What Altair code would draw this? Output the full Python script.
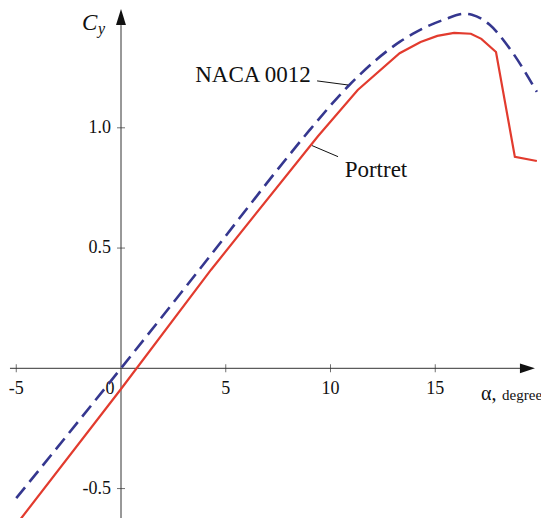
import altair as alt
import pandas as pd

# ---- data ----
naca_alpha = [-5, 0, 3.8, 8.2, 9.0, 10.9, 13.3, 14.1, 15.4, 16.4, 16.75, 17.6, 18.6, 19.85]
naca_cy    = [-0.54, 0.0, 0.417, 0.905, 0.99, 1.178, 1.357, 1.399, 1.449, 1.474, 1.47, 1.428, 1.324, 1.149]

portret_alpha = [-5, 0, 4.3, 9.4, 11.3, 13.3, 14.3, 15.1, 15.9, 16.7, 17.2, 17.9, 18.8, 19.85]
portret_cy    = [-0.65, -0.086, 0.41, 0.965, 1.157, 1.31, 1.357, 1.382, 1.395, 1.391, 1.37, 1.315, 0.879, 0.862]

x_ticks = [-5, 5, 10, 15]
x_tick_labels = ["-5", "5", "10", "15"]
y_ticks = [-0.5, 0.5, 1.0]
y_tick_labels = ["-0.5", "0.5", "1.0"]

# annotation anchors (data coordinates)
naca_label = {"a": 6.3, "c": 1.19, "t": "NACA 0012"}
naca_leader = {"a": 9.36, "c": 1.195, "a2": 10.84, "c2": 1.178}
portret_label = {"a": 12.17, "c": 0.795, "t": "Portret"}
portret_leader = {"a": 9.12, "c": 0.926, "a2": 10.36, "c2": 0.880}

X_DOMAIN = [-5.394, 20.048]
Y_DOMAIN = [-0.6224, 1.4981]
W, H = 533, 510
FONT = "Liberation Serif"
AXC = "#333333"
RED = "#e23b2e"
BLUE = "#35378f"

xs = alt.Scale(domain=X_DOMAIN, nice=False, zero=False)
ys = alt.Scale(domain=Y_DOMAIN, nice=False, zero=False)

naca_df = pd.DataFrame({"a": naca_alpha, "c": naca_cy})
port_df = pd.DataFrame({"a": portret_alpha, "c": portret_cy})

X = lambda f: alt.X(f, type="quantitative", scale=xs, axis=None)
Y = lambda f: alt.Y(f, type="quantitative", scale=ys, axis=None)

# axis lines
x_axis = alt.Chart(pd.DataFrame({"a": [-5.30], "a2": [19.05], "c": [0]})).mark_rule(
    color=AXC, strokeWidth=1).encode(x=X("a"), x2="a2", y=Y("c"))
y_axis = alt.Chart(pd.DataFrame({"a": [0], "c": [-0.7], "c2": [1.427]})).mark_rule(
    color=AXC, strokeWidth=1).encode(x=X("a"), y=Y("c"), y2="c2")

# arrow heads
x_arrow = alt.Chart(pd.DataFrame({"a": [19.40], "c": [0]})).mark_point(
    shape="M1,0L-1,-0.65L-1,0.65Z", size=225, filled=True, color="#111111", opacity=1
).encode(x=X("a"), y=Y("c"))
y_arrow = alt.Chart(pd.DataFrame({"a": [0], "c": [1.4605]})).mark_point(
    shape="M0,-1L0.62,1L-0.62,1Z", size=256, filled=True, color="#111111", opacity=1
).encode(x=X("a"), y=Y("c"))

# ticks
xt_df = pd.DataFrame({"a": x_ticks, "t": x_tick_labels})
yt_df = pd.DataFrame({"c": y_ticks, "t": y_tick_labels})
x_tick_marks = alt.Chart(xt_df).mark_tick(orient="vertical", size=8, thickness=1, color=AXC).encode(
    x=X("a"), y=alt.Y(datum=0, type="quantitative", scale=ys, axis=None))
y_tick_marks = alt.Chart(yt_df).mark_tick(orient="horizontal", size=8, thickness=1, color=AXC).encode(
    y=Y("c"), x=alt.X(datum=0, type="quantitative", scale=xs, axis=None))

x_tick_text = alt.Chart(xt_df).mark_text(font=FONT, fontSize=18, align="center", baseline="alphabetic",
                                         dy=26, color="#111111").encode(
    x=X("a"), y=alt.Y(datum=0, type="quantitative", scale=ys, axis=None), text="t")
zero_text = alt.Chart(pd.DataFrame({"a": [0], "t": ["0"]})).mark_text(
    font=FONT, fontSize=18, align="center", baseline="alphabetic", dy=26, dx=-11, color="#111111").encode(
    x=X("a"), y=alt.Y(datum=0, type="quantitative", scale=ys, axis=None), text="t")
y_tick_text = alt.Chart(yt_df).mark_text(font=FONT, fontSize=18, align="right", baseline="middle",
                                         dx=-10, color="#111111").encode(
    y=Y("c"), x=alt.X(datum=0, type="quantitative", scale=xs, axis=None), text="t")

# axis titles
cy_c = alt.Chart(pd.DataFrame({"a": [-1.86], "c": [1.407], "t": ["C"]})).mark_text(
    font=FONT, fontSize=23, fontStyle="italic", align="left", baseline="alphabetic", color="#111111").encode(
    x=X("a"), y=Y("c"), text="t")
cy_y = alt.Chart(pd.DataFrame({"a": [-1.098], "c": [1.39], "t": ["y"]})).mark_text(
    font=FONT, fontSize=16, fontStyle="italic", align="left", baseline="alphabetic", color="#111111").encode(
    x=X("a"), y=Y("c"), text="t")
alpha_t = alt.Chart(pd.DataFrame({"a": [17.18], "c": [-0.132], "t": ["α,"]})).mark_text(
    font=FONT, fontSize=20, align="left", baseline="alphabetic", color="#111111").encode(
    x=X("a"), y=Y("c"), text="t")
degree_t = alt.Chart(pd.DataFrame({"a": [18.19], "c": [-0.132], "t": ["degree"]})).mark_text(
    font=FONT, fontSize=15, align="left", baseline="alphabetic", color="#111111").encode(
    x=X("a"), y=Y("c"), text="t")

# series
naca_line = alt.Chart(naca_df).mark_line(color=BLUE, strokeWidth=2.6, strokeDash=[14, 7], clip=True,
                                         interpolate="monotone").encode(
    x=X("a"), y=Y("c"), order="a")
port_line = alt.Chart(port_df).mark_line(color=RED, strokeWidth=2.2, clip=True).encode(
    x=X("a"), y=Y("c"), order="a")

# annotations
def leader(d):
    return alt.Chart(pd.DataFrame([d])).mark_rule(color="#111111", strokeWidth=1).encode(
        x=X("a"), y=Y("c"), x2="a2", y2="c2")

def label(d):
    return alt.Chart(pd.DataFrame([d])).mark_text(font=FONT, fontSize=23, align="center",
                                                  baseline="alphabetic", color="#111111").encode(
        x=X("a"), y=Y("c"), text="t")

chart = alt.layer(
    x_axis, y_axis, x_tick_marks, y_tick_marks, x_arrow, y_arrow,
    x_tick_text, zero_text, y_tick_text, cy_c, cy_y, alpha_t, degree_t,
    naca_line, port_line,
    leader(naca_leader), leader(portret_leader), label(naca_label), label(portret_label),
).properties(
    width=W, height=H, padding=0, autosize=alt.AutoSizeParams(type="none"), background="white"
).configure_view(stroke=None)

chart.save("out.html", embed_options={"renderer": "svg", "actions": False})
